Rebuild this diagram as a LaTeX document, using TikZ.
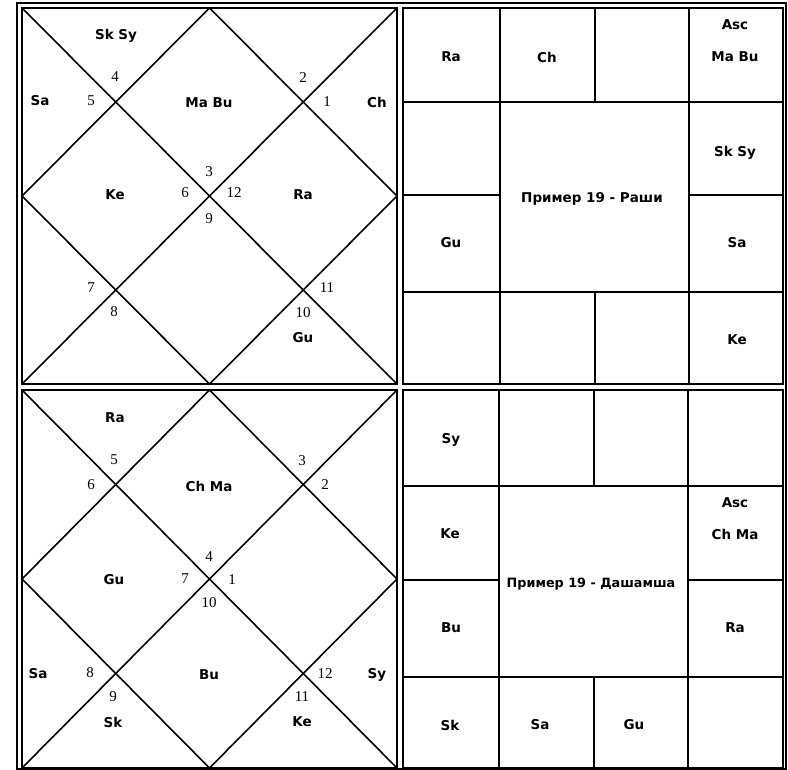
\documentclass[tikz,border=0pt]{standalone}
\usepackage{fontspec}
\setmainfont{DejaVu Sans}
\newfontfamily\numfont{Liberation Serif}
\begin{document}
\begin{tikzpicture}[x=1pt,y=-1pt,
  pl/.style={font=\fontsize{13.5}{15}\selectfont\bfseries, inner sep=0pt},
  num/.style={font=\numfont\fontsize{15}{17}\selectfont, inner sep=0pt},
  ttl/.style={font=\fontsize{13.5}{15}\selectfont\bfseries, inner sep=0pt},
  ln/.style={line width=1.6pt},
  frm/.style={line width=2.2pt},
  grd/.style={line width=1.7pt}]
\useasboundingbox (0,0) rectangle (788,770);
% outer frame
\draw[frm] (17,3) rectangle (786,769);
% chart frames
\draw[frm] (22,8) rectangle (397,384);
\draw[frm] (403,8) rectangle (783,384);
\draw[frm] (22,390) rectangle (397,768);
\draw[frm] (403,390) rectangle (783,768);

% ---- Top-left North chart
\begin{scope}[shift={(22,8)}]
  \coordinate (a1) at (0,0); \coordinate (a2) at (375,0);
  \coordinate (a3) at (375,376); \coordinate (a4) at (0,376);
  \coordinate (am1) at (187.5,0); \coordinate (am2) at (375,188);
  \coordinate (am3) at (187.5,376); \coordinate (am4) at (0,188);
  \draw[ln] (a1) -- (a3); \draw[ln] (a2) -- (a4);
  \draw[ln] (am1) -- (am2) -- (am3) -- (am4) -- cycle;
\end{scope}
\node[pl] (t1) at (116,36) {Sk\,\,Sy};
\node[num] (t2) at (115,77) {4};
\node[pl] (t3) at (40,101) {Sa};
\node[num] (t4) at (91,101) {5};
\node[pl] (t5) at (209,103) {Ma Bu};
\node[num] (t6) at (303,78) {2};
\node[num] (t7) at (327,102) {1};
\node[pl] (t8) at (377,102) {Ch};
\node[num] (t9) at (209,172) {3};
\node[pl] (t10) at (115,195) {Ke};
\node[num] (t11) at (185,193) {6};
\node[num] (t12) at (234,193) {12};
\node[pl] (t13) at (303,195) {Ra};
\node[num] (t14) at (209,219) {9};
\node[num] (t15) at (91,288) {7};
\node[num] (t16) at (114,312) {8};
\node[num] (t17) at (327,288) {11};
\node[num] (t18) at (303,313) {10};
\node[pl] (t19) at (303,338) {Gu};

% ---- Top-right South chart
\draw[grd] (500,8) -- (500,384);
\draw[grd] (595,8) -- (595,102);
\draw[grd] (595,292) -- (595,384);
\draw[grd] (689,8) -- (689,384);
\draw[grd] (403,102) -- (783,102);
\draw[grd] (403,195) -- (500,195);
\draw[grd] (689,195) -- (783,195);
\draw[grd] (403,292) -- (783,292);
\node[pl] (s1) at (451,57) {Ra};
\node[pl] (s2) at (547,57) {Ch};
\node[pl] (s3) at (735,25) {Asc};
\node[pl] (s4) at (735,57) {Ma Bu};
\node[pl] (s5) at (735,153) {Sk\,\,Sy};
\node[ttl] (s6) at (592,199) {Пример 19 - Раши};
\node[pl] (s7) at (451,243) {Gu};
\node[pl] (s8) at (737,243) {Sa};
\node[pl] (s9) at (737,340) {Ke};

% ---- Bottom-left North chart
\begin{scope}[shift={(22,390)}]
  \coordinate (b1) at (0,0); \coordinate (b2) at (375,0);
  \coordinate (b3) at (375,378); \coordinate (b4) at (0,378);
  \coordinate (bm1) at (187.5,0); \coordinate (bm2) at (375,189);
  \coordinate (bm3) at (187.5,378); \coordinate (bm4) at (0,189);
  \draw[ln] (b1) -- (b3); \draw[ln] (b2) -- (b4);
  \draw[ln] (bm1) -- (bm2) -- (bm3) -- (bm4) -- cycle;
\end{scope}
\node[pl] (u1) at (115,418) {Ra};
\node[num] (u2) at (114,460) {5};
\node[num] (u3) at (91,485) {6};
\node[pl] (u4) at (209,486) {Ch Ma};
\node[num] (u5) at (302,461) {3};
\node[num] (u6) at (325,485) {2};
\node[num] (u7) at (209,557) {4};
\node[pl] (u8) at (114,580) {Gu};
\node[num] (u9) at (185,579) {7};
\node[num] (u10) at (232,580) {1};
\node[num] (u11) at (209,603) {10};
\node[pl] (u12) at (38,674) {Sa};
\node[num] (u13) at (90,673) {8};
\node[pl] (u14) at (209,675) {Bu};
\node[num] (u15) at (325,674) {12};
\node[pl] (u16) at (377,675) {Sy};
\node[num] (u17) at (113,697) {9};
\node[num] (u18) at (302,697) {11};
\node[pl] (u19) at (113,722) {Sk};
\node[pl] (u20) at (302,722) {Ke};

% ---- Bottom-right South chart
\draw[grd] (499,390) -- (499,768);
\draw[grd] (594,390) -- (594,486);
\draw[grd] (594,677) -- (594,768);
\draw[grd] (688,390) -- (688,768);
\draw[grd] (403,486) -- (783,486);
\draw[grd] (403,580) -- (499,580);
\draw[grd] (688,580) -- (783,580);
\draw[grd] (403,677) -- (783,677);
\node[pl] (v1) at (451,440) {Sy};
\node[pl] (v2) at (450,534) {Ke};
\node[pl] (v3) at (735,503) {Asc};
\node[pl] (v4) at (735,534) {Ch Ma};
\node[ttl, font=\fontsize{12.8}{15}\selectfont\bfseries] (v5) at (591,584) {Пример 19 - Дашамша};
\node[pl] (v6) at (451,628) {Bu};
\node[pl] (v7) at (735,628) {Ra};
\node[pl] (v8) at (450,725) {Sk};
\node[pl] (v9) at (540,725) {Sa};
\node[pl] (v10) at (634,725) {Gu};
\end{tikzpicture}
\end{document}
